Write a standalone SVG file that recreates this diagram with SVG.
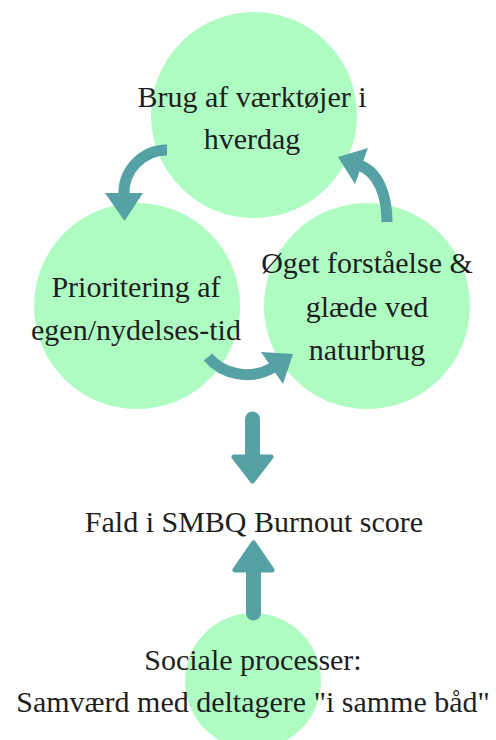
<svg xmlns="http://www.w3.org/2000/svg" width="496" height="740" viewBox="0 0 496 740">
<style>
.node{fill:#aefcc2}
.lbl{font-family:"Liberation Serif","Times New Roman",serif;font-size:30px;fill:#1e1e1e;text-anchor:middle}
.arc{fill:none;stroke:#55a1a4;stroke-width:11}
.head{fill:#55a1a4}
.shaft{stroke:#55a1a4;stroke-width:15;stroke-linecap:round}
.rhead{fill:#55a1a4;stroke:#55a1a4;stroke-width:5;stroke-linejoin:round}
</style>
<rect width="496" height="740" fill="#ffffff"/>
<g id="node-top"><circle class="node" cx="254" cy="115" r="103"/></g>
<g id="node-left"><circle class="node" cx="137" cy="306" r="103"/></g>
<g id="node-right"><circle class="node" cx="367" cy="306" r="103"/></g>
<g id="node-bottom"><circle class="node" cx="253" cy="681" r="68"/></g>
<g id="connectors">
<path class="arc" d="M167,150 A43,43 0 0 0 124,195"/>
<polygon class="head" points="105,193 143,193 124.5,221"/>
<path class="arc" d="M387,222 C387,195 378,172 360,165.5"/>
<polygon class="head" points="368,148 355,184 338,157"/>
<path class="arc" d="M208,357 C222,374 250,381 273,367.5"/>
<polygon class="head" points="261,352 283,384 293,354"/>
<line class="shaft" x1="252.5" y1="419" x2="252.5" y2="458"/>
<polygon class="rhead" points="234,457 271,457 252.5,481"/>
<line class="shaft" x1="253.5" y1="568" x2="253.5" y2="613"/>
<polygon class="rhead" points="235,570 272,570 253.5,543"/>
</g>
<g id="labels-top"><text class="lbl" x="252" y="107">Brug af værktøjer i</text><text class="lbl" x="252" y="149">hverdag</text></g>
<g id="labels-left"><text class="lbl" x="136" y="297">Prioritering af</text><text class="lbl" x="136" y="340">egen/nydelses-tid</text></g>
<g id="labels-right"><text class="lbl" x="367" y="273">Øget forståelse &amp;</text><text class="lbl" x="367" y="317">glæde ved</text><text class="lbl" x="367" y="360">naturbrug</text></g>
<g id="node-result"><text class="lbl" x="254" y="532">Fald i SMBQ Burnout score</text></g>
<g id="labels-bottom"><text class="lbl" x="253" y="670">Sociale processer:</text><text class="lbl" x="253" y="712">Samværd med deltagere "i samme båd"</text></g>
</svg>
